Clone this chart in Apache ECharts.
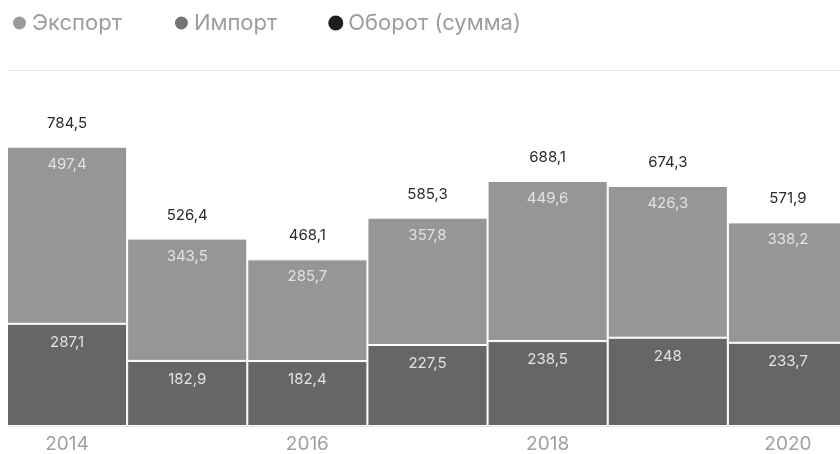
<!DOCTYPE html>
<html><head><meta charset="utf-8">
<script src="https://cdn.jsdelivr.net/npm/echarts@6/dist/echarts.min.js"></script>
<style>html,body{margin:0;padding:0;background:#fff;overflow:hidden}#c{width:848px;height:454px}</style>
</head><body><div id="c"></div>
<script>
const years = ['2014','2015','2016','2017','2018','2019','2020'];
const exportVals = [497.4, 343.5, 285.7, 357.8, 449.6, 426.3, 338.2];
const importVals = [287.1, 182.9, 182.4, 227.5, 238.5, 248, 233.7];
const totalVals = [784.5, 526.4, 468.1, 585.3, 688.1, 674.3, 571.9];
const seriesNames = ['Экспорт', 'Импорт', 'Оборот (сумма)'];

const fmt = v => String(v).replace('.', ',');
const chart = echarts.init(document.getElementById('c'));
const font = 'Inter, Roboto, sans-serif';
chart.setOption({
  animation: false,
  textStyle: {fontFamily: font},
  legend: {
    left: 6, top: 7, icon: 'circle', itemWidth: 15, itemHeight: 15, itemGap: 51,
    textStyle: {color: '#9d9d9d', fontSize: 22, fontFamily: font},
    data: [
      {name: seriesNames[0], itemStyle: {color: '#9a9a9a'}},
      {name: seriesNames[1], itemStyle: {color: '#747474'}},
      {name: seriesNames[2], itemStyle: {color: '#1e1e1e'}}
    ]
  },
  grid: {left: 7, top: 70, right: 0, bottom: 28},
  xAxis: {
    type: 'category', data: years,
    axisLine: {show: false}, axisTick: {show: false},
    axisLabel: {interval: 1, color: '#a0a0a0', fontSize: 19, margin: 9, fontFamily: font}
  },
  yAxis: {
    type: 'value', min: 0, max: 1000, interval: 1000,
    axisLabel: {show: false}, axisLine: {show: false}, axisTick: {show: false},
    splitLine: {lineStyle: {color: '#e6e6e6', width: 1}}
  },
  series: [
    {
      name: seriesNames[1], type: 'bar', stack: 's', data: importVals, barCategoryGap: 0,
      itemStyle: {color: '#666666', borderColor: '#ffffff', borderWidth: 1},
      label: {show: true, position: 'insideTop', distance: 11, color: '#e2e2e2', fontSize: 15, formatter: p => fmt(p.value)}
    },
    {
      name: seriesNames[0], type: 'bar', stack: 's', data: exportVals, barCategoryGap: 0,
      itemStyle: {color: '#969696', borderColor: '#ffffff', borderWidth: 1},
      label: {show: true, position: 'insideTop', distance: 10, color: '#e2e2e2', fontSize: 15, formatter: p => fmt(p.value)}
    },
    {
      name: seriesNames[2], type: 'bar', data: totalVals, barGap: '-100%', barCategoryGap: 0,
      itemStyle: {color: 'rgba(0,0,0,0)'},
      label: {show: true, position: 'top', distance: 16, color: '#2a2a2a', fontSize: 15, formatter: p => fmt(p.value)}
    }
  ]
});
</script></body></html>
